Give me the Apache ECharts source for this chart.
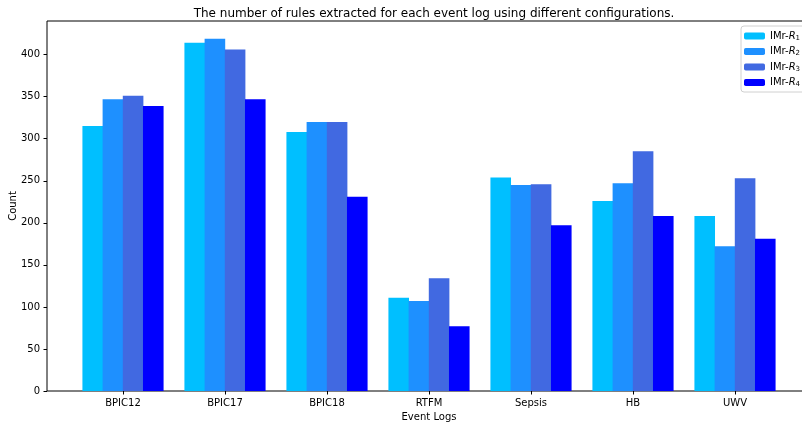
<!DOCTYPE html>
<html><head><meta charset="utf-8">
<script src="https://cdn.jsdelivr.net/npm/echarts@6/dist/echarts.min.js"></script>
<style>html,body{margin:0;padding:0;background:#fff}#c{width:802px;height:424px}</style>
</head><body><div id="c"></div>
<script>
const categories = ['BPIC12','BPIC17','BPIC18','RTFM','Sepsis','HB','UWV'];
const seriesNames = ['IMr-R1','IMr-R2','IMr-R3','IMr-R4'];
const r1 = [315, 414, 308, 111, 254, 226, 208];
const r2 = [347, 419, 320, 107, 245, 247, 172];
const r3 = [351, 406, 320, 134, 246, 285, 253];
const r4 = [339, 347, 231, 77, 197, 208, 181];
const colors = ['#00BFFF','#1E90FF','#4169E1','#0000FF'];
const values = [r1, r2, r3, r4];

const font = 'DejaVu Sans';
const chart = echarts.init(document.getElementById('c'), null, {renderer:'canvas'});
chart.setOption({
  animation:false,
  backgroundColor:'#fff',
  title:{text:'The number of rules extracted for each event log using different configurations.',
    left:429, top:3, textAlign:'center',
    textStyle:{fontFamily:font,fontSize:12,fontWeight:'normal',color:'#000'}},
  legend:{orient:'vertical', left:741, top:26, padding:[5,14,4,3], itemWidth:21, itemHeight:7, itemGap:5,
    borderColor:'#d0d0d0', borderWidth:1, borderRadius:3, backgroundColor:'#fff',
    data:seriesNames,
    formatter:function(n){const k=n.slice(-1);return 'IMr-{i|R}{s|'+k+'}';},
    textStyle:{fontFamily:font,fontSize:10,color:'#000',
      rich:{i:{fontStyle:'italic',fontFamily:font,fontSize:10},s:{fontFamily:font,fontSize:7,verticalAlign:'bottom',padding:[4,0,0,0]}}}},
  grid:[
    {left:72, top:21, width:714, height:370, outerBoundsMode:'none', containLabel:false},
    {left:47, top:21, width:764, height:370, outerBoundsMode:'none', containLabel:false, show:true, borderColor:'#000', borderWidth:1, backgroundColor:'transparent'}
  ],
  xAxis:[
    {type:'category', gridIndex:0, data:categories, boundaryGap:true,
     axisLine:{show:false}, axisTick:{show:true, alignWithLabel:true, length:3.5, lineStyle:{color:'#000'}},
     axisLabel:{fontFamily:font,fontSize:10,color:'#000',margin:7},
     name:'Event Logs', nameLocation:'middle', nameGap:21, nameMoveOverlap:false,
     nameTextStyle:{fontFamily:font,fontSize:10,color:'#000'}},
    {type:'value', gridIndex:1, show:false, min:0, max:1}
  ],
  yAxis:[
    {type:'value', gridIndex:0, min:0, max:440, interval:50, offset:25,
     axisLine:{show:false}, axisTick:{show:true, length:3.5, lineStyle:{color:'#000'}},
     splitLine:{show:false},
     axisLabel:{fontFamily:font,fontSize:10,color:'#000',margin:7, showMaxLabel:false},
     name:'Count', nameLocation:'middle', nameGap:29, nameMoveOverlap:false,
     nameTextStyle:{fontFamily:font,fontSize:10,color:'#000'}},
    {type:'value', gridIndex:1, show:false, min:0, max:1}
  ],
  series: seriesNames.map((n,i)=>({
    name:n, type:'bar', xAxisIndex:0, yAxisIndex:0, data:values[i],
    barWidth:20.6, barGap:'-2%', itemStyle:{color:colors[i]}
  }))
});
</script></body></html>
